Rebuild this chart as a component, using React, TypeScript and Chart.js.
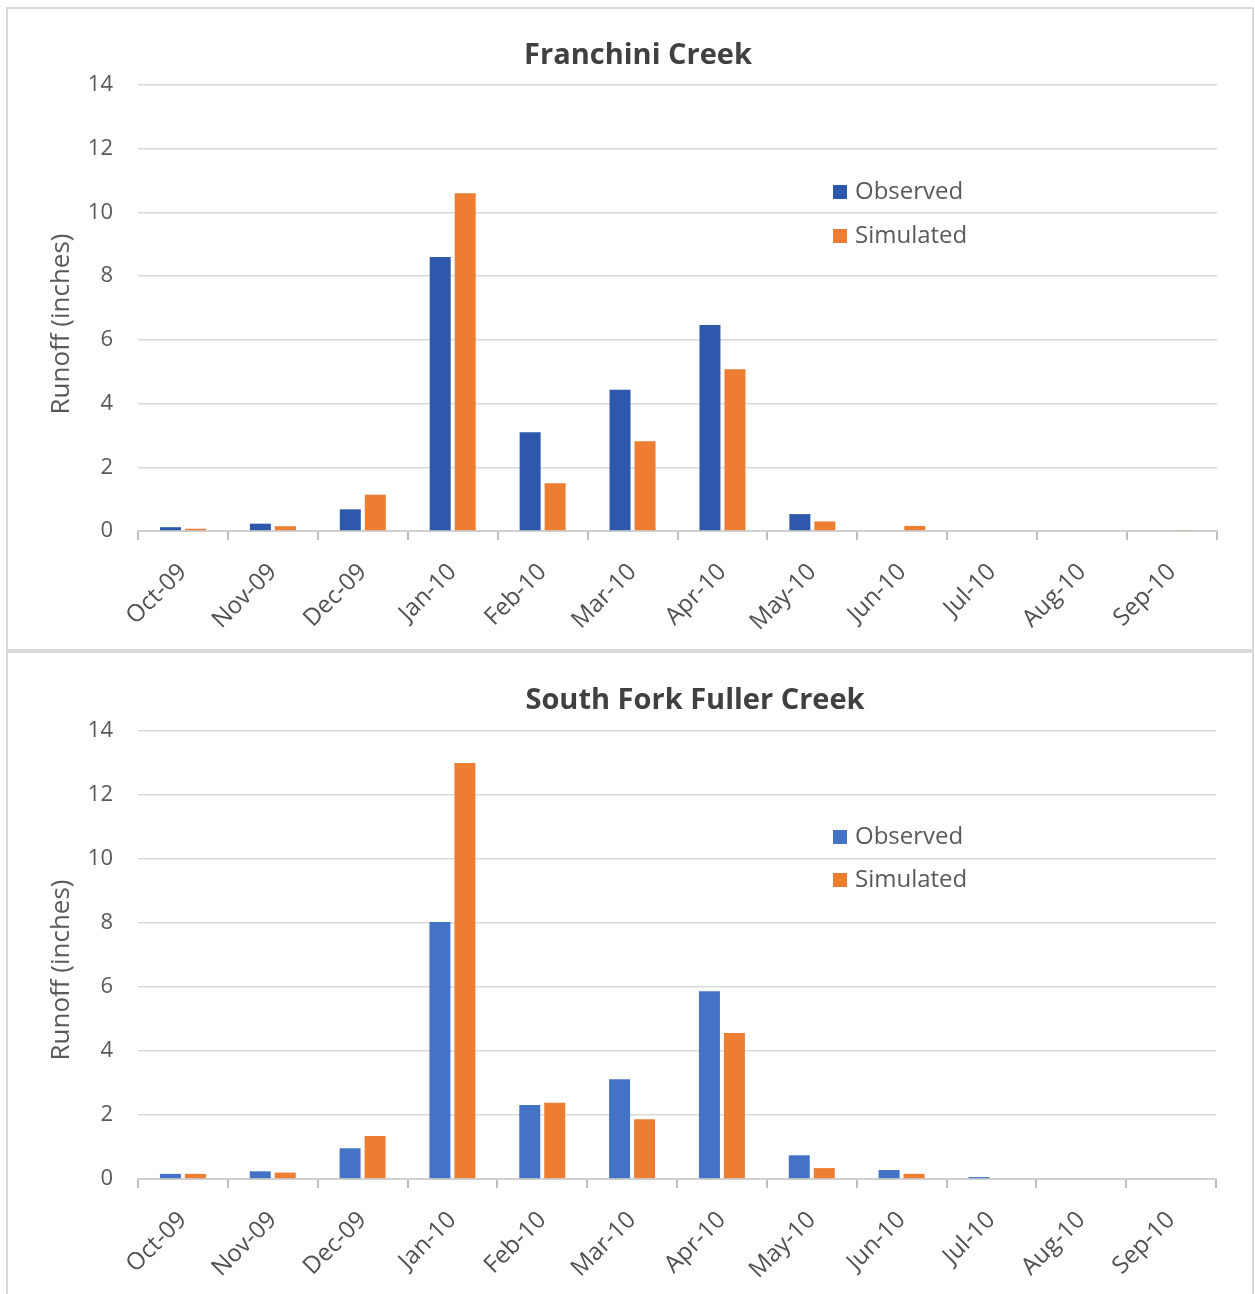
import React, { useEffect, useRef } from "react";
import { Chart, registerables } from "chart.js";
Chart.register(...registerables);

const months = ["Oct-09", "Nov-09", "Dec-09", "Jan-10", "Feb-10", "Mar-10", "Apr-10", "May-10", "Jun-10", "Jul-10", "Aug-10", "Sep-10"];
const franchiniObserved = [0.12, 0.23, 0.68, 8.6, 3.1, 4.43, 6.47, 0.53, 0, 0, 0, 0];
const franchiniSimulated = [0.07, 0.15, 1.14, 10.6, 1.5, 2.82, 5.08, 0.3, 0.16, 0, 0, 0.03];
const fullerObserved = [0.16, 0.24, 0.96, 8.03, 2.31, 3.12, 5.87, 0.74, 0.28, 0.06, 0, 0];
const fullerSimulated = [0.16, 0.2, 1.34, 13.0, 2.38, 1.87, 4.56, 0.34, 0.16, 0, 0, 0];
const seriesNames = ["Observed", "Simulated"];
const yMax = 14;
const yStep = 2;

const FONT = '"Open Sans", "Noto Sans", sans-serif';
const TEXT = "#595959";

const overlay = {
  id: "overlay",
  afterDraw(chart: any, _args: any, opts: any) {
    const ctx = chart.ctx;
    ctx.save();
    ctx.font = `bold 29px ${FONT}`;
    ctx.fillStyle = "#404040";
    ctx.textAlign = "center";
    ctx.textBaseline = "middle";
    ctx.fillText(opts.title, opts.titleX, opts.titleY);

    ctx.save();
    ctx.translate(opts.yTitleX, opts.yTitleY);
    ctx.rotate(-Math.PI / 2);
    ctx.font = `26px ${FONT}`;
    ctx.fillStyle = TEXT;
    ctx.fillText("Runoff (inches)", 0, 0);
    ctx.restore();

    chart.data.datasets.forEach((ds: any, i: number) => {
      const y = opts.legendY + i * opts.legendGap;
      ctx.fillStyle = ds.backgroundColor;
      ctx.fillRect(opts.legendX, y - 7, 14, 14);
      ctx.fillStyle = TEXT;
      ctx.font = `24px ${FONT}`;
      ctx.textAlign = "left";
      ctx.fillText(ds.label, opts.legendX + 22, y);
    });
    ctx.restore();
  },
};

type PanelProps = {
  title: string;
  observed: number[];
  simulated: number[];
  obsColor: string;
  top: number;
  height: number;
  canvasH: number;
  areaTop: number;
  xHeight: number;
  rightPad: number;
  titleX: number;
  titleY: number;
  yTitleY: number;
  legendY: number;
  legendGap: number;
};

function Panel(p: PanelProps) {
  const ref = useRef<HTMLCanvasElement>(null);
  useEffect(() => {
    if (!ref.current) return;
    const chart = new Chart(ref.current, {
      type: "bar",
      data: {
        labels: months,
        datasets: [
          { label: seriesNames[0], data: p.observed, backgroundColor: p.obsColor, categoryPercentage: 0.556, barPercentage: 0.84 },
          { label: seriesNames[1], data: p.simulated, backgroundColor: "#ED7D31", categoryPercentage: 0.556, barPercentage: 0.84 },
        ],
      },
      options: {
        responsive: false,
        animation: false,
        layout: { padding: { top: p.areaTop, right: p.rightPad, left: 0, bottom: 0 } },
        plugins: {
          legend: { display: false },
          title: { display: false },
          tooltip: { enabled: false },
          overlay: {
            title: p.title,
            titleX: p.titleX,
            titleY: p.titleY,
            yTitleX: 54,
            yTitleY: p.yTitleY,
            legendX: 825,
            legendY: p.legendY,
            legendGap: p.legendGap,
          },
        } as any,
        scales: {
          x: {
            afterFit: (s: any) => {
              s.height = p.xHeight;
            },
            grid: { drawOnChartArea: false, drawTicks: true, tickLength: 9, color: "#bfbfbf", lineWidth: 2 },
            border: { display: true, color: "#d0d0d0", width: 2 },
            ticks: { color: "#505050", font: { size: 24, family: FONT }, minRotation: 45, maxRotation: 45, padding: 18, autoSkip: false },
          },
          y: {
            min: 0,
            max: yMax,
            afterFit: (s: any) => {
              s.width = 130;
            },
            grid: { color: "#d9d9d9", lineWidth: 1.5, drawTicks: false },
            border: { display: false },
            ticks: { stepSize: yStep, color: TEXT, font: { size: 22, family: FONT }, padding: 25 },
          },
        },
      },
      plugins: [overlay as any],
    });
    return () => chart.destroy();
  }, []);
  return (
    <div
      style={{
        position: "absolute",
        left: 6,
        top: p.top,
        width: 1248,
        height: p.height,
        border: "2px solid #d9d9d9",
        boxSizing: "border-box",
        background: "#fff",
      }}
    >
      <canvas ref={ref} width={1244} height={p.canvasH} style={{ display: "block" }} />
    </div>
  );
}

export default function App() {
  return (
    <div style={{ position: "absolute", left: 0, top: 0, width: 1255, height: 1294, background: "#fff", overflow: "hidden" }}>
      <Panel
        title="Franchini Creek"
        observed={franchiniObserved}
        simulated={franchiniSimulated}
        obsColor="#2E58AC"
        top={7}
        height={644}
        canvasH={640}
        areaTop={76}
        xHeight={118}
        rightPad={35}
        titleX={630}
        titleY={47}
        yTitleY={315}
        legendY={183}
        legendGap={44}
      />
      <Panel
        title="South Fork Fuller Creek"
        observed={fullerObserved}
        simulated={fullerSimulated}
        obsColor="#4472C4"
        top={651}
        height={645}
        canvasH={641}
        areaTop={78}
        xHeight={115}
        rightPad={36}
        titleX={687}
        titleY={48}
        yTitleY={317}
        legendY={184}
        legendGap={43}
      />
    </div>
  );
}
